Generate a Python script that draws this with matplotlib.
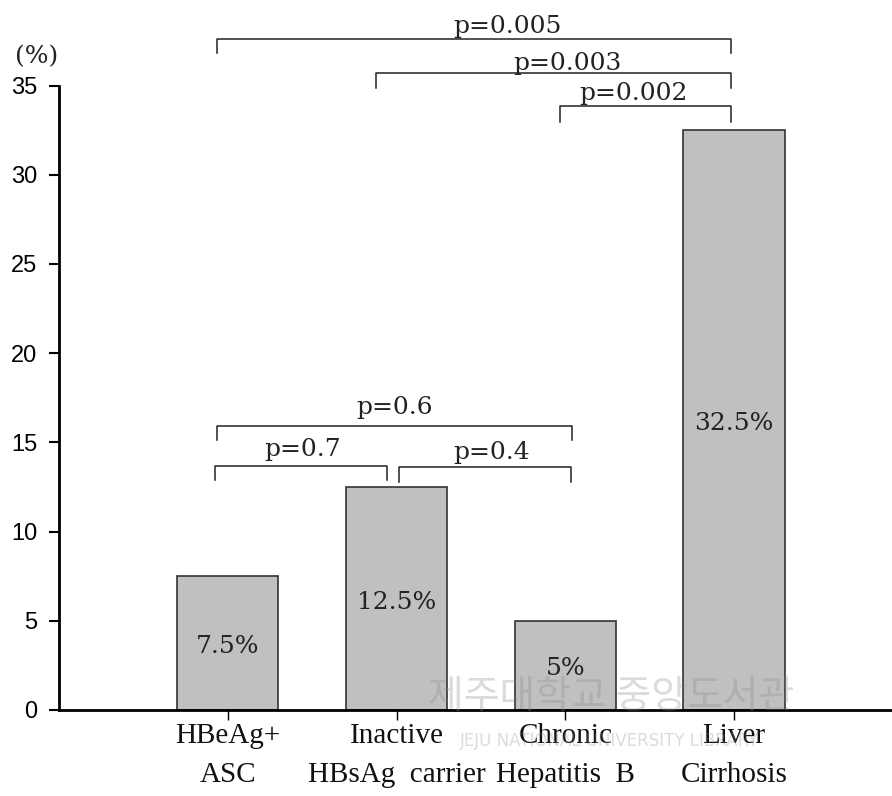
import matplotlib
matplotlib.use("Agg")
import matplotlib.pyplot as plt

# ---- data ----
categories = ["HBeAg+\nASC", "Inactive\nHBsAg  carrier", "Chronic\nHepatitis  B", "Liver\nCirrhosis"]
values = [7.5, 12.5, 5.0, 32.5]
value_labels = ["7.5%", "12.5%", "5%", "32.5%"]
yticks = [0, 5, 10, 15, 20, 25, 30, 35]

# significance brackets
bracket_labels = ["p=0.005", "p=0.003", "p=0.002", "p=0.6", "p=0.7", "p=0.4"]
bracket_x0 = [-0.064, 0.878, 1.97, -0.064, -0.078, 1.017]
bracket_x1 = [2.983, 2.983, 2.983, 2.04, 0.945, 2.033]
bracket_y = [37.6, 35.72, 33.86, 15.94, 13.69, 13.6]
bracket_leg = [36.84, 34.87, 32.98, 15.13, 12.89, 12.78]
bracket_tx = [1.656, 2.011, 2.402, 0.99, 0.441, 1.561]
bracket_ty = [37.95, 35.87, 34.19, 16.59, 14.24, 14.05]

serif = ["DejaVu Serif"]
serif2 = ["Liberation Serif", "DejaVu Serif"]

fig = plt.figure(figsize=(8.92, 7.96), dpi=100)
ax = fig.add_axes([59 / 892, 86 / 796, 1 - 59 / 892, (710 - 85.5) / 796])

x = list(range(len(categories)))
ax.bar(x, values, width=0.6, color="#c0c0c0", edgecolor="#333333", linewidth=1.2, zorder=2)

for xi, v, lab in zip(x, values, value_labels):
    ax.text(xi, v / 2 - 0.2, lab, ha="center", va="center", fontsize=18, family=serif,
            color="#222222", zorder=4)

ax.set_xlim(-1.0, 3.936)
ax.set_ylim(0, 35)
ax.set_yticks(yticks)
ax.set_yticklabels([str(t) for t in yticks], fontsize=17, family=["Liberation Sans", "DejaVu Sans"])
ax.set_xticks(x)
ax.set_xticklabels(categories, fontsize=21, family=serif2, linespacing=1.65, color="#111111")

for s in ["top", "right"]:
    ax.spines[s].set_visible(False)
for s in ["left", "bottom"]:
    ax.spines[s].set_linewidth(2.0)
ax.tick_params(axis="y", length=7.5, width=1.5, pad=8)
ax.tick_params(axis="x", length=7.5, width=1.0, pad=2)

for x0, x1, yl, yb, lab, tx, ty in zip(bracket_x0, bracket_x1, bracket_y, bracket_leg,
                                       bracket_labels, bracket_tx, bracket_ty):
    ax.plot([x0, x0, x1, x1], [yb, yl, yl, yb], color="#222222", linewidth=1.1,
            clip_on=False, zorder=3)
    ax.text(tx, ty, lab, ha="center", va="baseline", fontsize=18, family=serif,
            color="#222222", clip_on=False)

fig.text(37 / 892, 1 - 57 / 796, "(%)", ha="center", va="center", fontsize=18, family=serif, color="#222222")

# watermark
fig.text(611 / 892, 1 - 697 / 796, "제주대학교 중앙도서관", ha="center", va="center",
         fontsize=28, family=["Noto Sans CJK KR"], color="#8a8a8a", alpha=0.3, zorder=5)
fig.text(610 / 892, 1 - 741 / 796, "JEJU NATIONAL UNIVERSITY LIBRARY", ha="center", va="center",
         fontsize=12, family=["DejaVu Sans"], color="#8a8a8a", alpha=0.3, zorder=5)

fig.savefig("out.png", dpi=100)
